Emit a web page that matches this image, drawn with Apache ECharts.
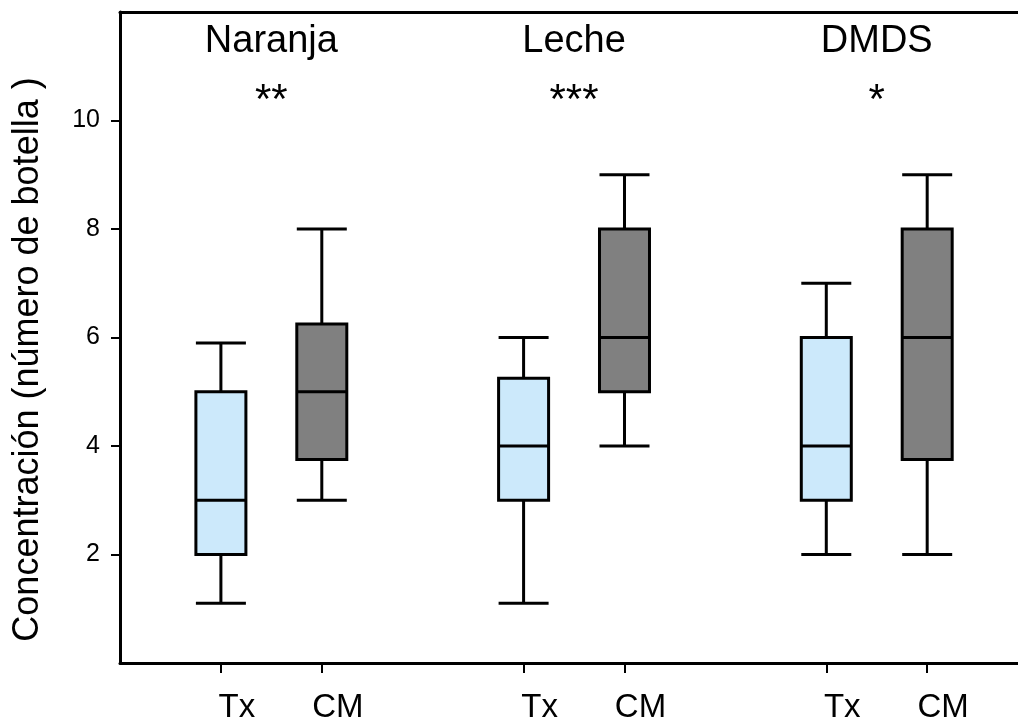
<!DOCTYPE html>
<html>
<head>
<meta charset="utf-8">
<script src="https://cdn.jsdelivr.net/npm/echarts@6/dist/echarts.min.js"></script>
<style>
  html, body { margin: 0; padding: 0; background: #fff; }
  #chart { width: 1018px; height: 724px; }
</style>
</head>
<body>
<div id="chart"></div>
<script>
var groups = ['Naranja', 'Leche', 'DMDS'];
var stars = ['**', '***', '*'];
var treatments = ['Tx', 'CM'];
// [min, Q1, median, Q3, max]
var txBoxes = [[1.1, 2, 3, 5, 5.9], [1.1, 3, 4, 5.25, 6], [2, 3, 4, 6, 7]];
var cmBoxes = [[3, 3.75, 5, 6.25, 8], [4, 5, 6, 8, 9], [2, 3.75, 6, 8, 9]];
var yTicks = [2, 4, 6, 8, 10];
var yName = 'Concentración (número de botella )';

var FONT = '"Liberation Sans", Arial, sans-serif';
var txColor = '#cce9fb';
var cmColor = '#808080';

// each group takes three slots on the x scale: Tx, CM, gap
var xTicks = [];
var xTickNames = {};
var boxData = [];
for (var i = 0; i < groups.length; i++) {
    var xt = 3 * i + 1, xc = 3 * i + 2;
    xTicks.push(xt, xc);
    xTickNames[xt] = treatments[0];
    xTickNames[xc] = treatments[1];
    boxData.push({ value: [xt].concat(txBoxes[i]), itemStyle: { color: txColor } });
    boxData.push({ value: [xc].concat(cmBoxes[i]), itemStyle: { color: cmColor } });
}

var myChart = echarts.init(document.getElementById('chart'), null, { renderer: 'canvas' });

var option = {
    animation: false,
    backgroundColor: '#fff',
    grid: { left: 120, right: 0, top: 12, bottom: 59 },
    xAxis: [{
        type: 'value',
        min: 0,
        max: 8.9,
        axisLine: { show: true, onZero: false, lineStyle: { color: '#000', width: 3 } },
        axisTick: {
            show: true,
            length: 10,
            customValues: xTicks,
            lineStyle: { color: '#000', width: 2 }
        },
        axisLabel: {
            customValues: xTicks,
            formatter: function (v) { return xTickNames[v] || ''; },
            margin: 28,
            color: '#000',
            fontSize: 33,
            fontFamily: FONT,
            padding: [0, 0, 0, 32]
        },
        splitLine: { show: false }
    }, {
        // top edge of the frame
        type: 'value',
        position: 'top',
        min: 0,
        max: 8.9,
        axisLine: { show: true, onZero: false, lineStyle: { color: '#000', width: 3 } },
        axisTick: { show: false },
        axisLabel: { show: false },
        splitLine: { show: false }
    }],
    yAxis: {
        type: 'value',
        min: 0,
        max: 12,
        name: yName,
        nameLocation: 'middle',
        nameGap: 74,
        nameTextStyle: {
            color: '#000',
            fontSize: 36,
            fontFamily: FONT,
            padding: [0, 44, 0, 0]
        },
        axisLine: { show: true, onZero: false, lineStyle: { color: '#000', width: 3 } },
        axisTick: {
            show: true,
            length: 9,
            customValues: yTicks,
            lineStyle: { color: '#000', width: 2 }
        },
        axisLabel: {
            customValues: yTicks,
            margin: 20,
            color: '#000',
            fontSize: 25,
            fontFamily: FONT
        },
        splitLine: { show: false }
    },
    series: [{
        type: 'boxplot',
        layout: 'horizontal',
        xAxisIndex: 0,
        silent: true,
        boxWidth: [50, 50],
        itemStyle: { borderColor: '#000', borderWidth: 3 },
        emphasis: { disabled: true },
        data: boxData
    }]
};

if (option)
    myChart.setOption(option);

// group titles and significance stars, placed over each Tx/CM pair
var texts = [];
for (var g = 0; g < groups.length; g++) {
    var cx = myChart.convertToPixel({ xAxisIndex: 0 }, 3 * g + 1.5);
    texts.push({
        type: 'text', x: cx, y: 42, silent: true,
        style: { text: groups[g], fill: '#000', font: '38px ' + FONT, align: 'center', verticalAlign: 'middle' }
    });
    texts.push({
        type: 'text', x: cx, y: 101, silent: true,
        style: { text: stars[g], fill: '#000', font: '42px ' + FONT, align: 'center', verticalAlign: 'middle' }
    });
}
myChart.setOption({ graphic: texts });
</script>
</body>
</html>
